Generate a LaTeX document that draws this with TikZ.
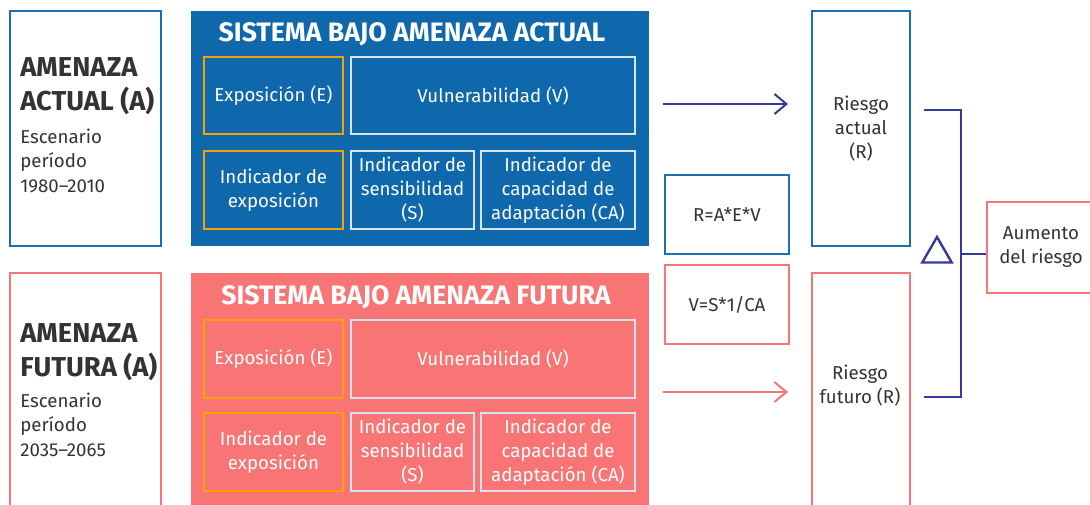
\documentclass[tikz,border=0pt]{standalone}
\usepackage{fontspec}
\setmainfont{Fira Sans}
\usetikzlibrary{arrows.meta,shapes.geometric}

\definecolor{azul}{HTML}{0F67AC}
\definecolor{azulborde}{HTML}{1A6FB5}
\definecolor{rosa}{HTML}{F97474}
\definecolor{naranja}{HTML}{F4A300}
\definecolor{gris}{HTML}{D8E3EC}
\definecolor{indigo}{HTML}{343A9A}
\definecolor{texto}{HTML}{333333}

\newcommand{\px}{0.75pt}

\tikzset{
    caja/.style={draw, line width=1.5pt, inner sep=0pt, anchor=north west, align=center},
    cuerpo/.style={font=\fontsize{14}{18}\selectfont},
    titulo/.style={font=\bfseries\fontsize{20}{22}\selectfont, text=white},
    amenaza/.style={font=\bfseries\fontsize{20.5}{25}\selectfont, text=texto, align=left, anchor=base west, inner sep=0pt},
    escenario/.style={font=\fontsize{14}{18.3}\selectfont, text=texto, align=left, anchor=base west, inner sep=0pt},
    flecha/.style={line width=1.5pt, -{Straight Barb[length=9pt,width=15pt,line width=1.5pt]}},
}

\begin{document}
\begin{tikzpicture}[x=0.75pt, y=-0.75pt, line cap=butt, line join=miter]

    \useasboundingbox (0,0) rectangle (1090,504);
    \clip (0,0) rectangle (1090,504);

    % amenaza actual
    \node[caja, draw=azulborde, minimum width=151*\px, minimum height=235*\px] (aactual) at (9,10) {};
    \node[amenaza] (aactualtit) at (20,110) {AMENAZA\\ACTUAL (A)};
    \node[escenario] (aactualesc) at (20,192) {Escenario\\período\\1980–2010};

    % sistema actual
    \node[caja, draw=none, fill=azul, minimum width=458*\px, minimum height=235*\px] (sactual) at (190,10) {};
    \node[titulo] (sactualtit) at (412,34) {SISTEMA BAJO AMENAZA ACTUAL};
    \node[caja, cuerpo, draw=naranja, text=white, minimum width=139*\px, minimum height=77*\px] (expA) at (203,56) {Exposición (E)};
    \node[caja, cuerpo, draw=gris, text=white, minimum width=284*\px, minimum height=77*\px] (vulA) at (350,56) {Vulnerabilidad (V)};
    \node[caja, cuerpo, draw=naranja, text=white, minimum width=139*\px, minimum height=78*\px] (iexpA) at (203,150) {Indicador de\\exposición};
    \node[caja, cuerpo, draw=gris, text=white, minimum width=123*\px, minimum height=78*\px] (isenA) at (350,150) {Indicador de\\sensibilidad\\(S)};
    \node[caja, cuerpo, draw=gris, text=white, minimum width=154*\px, minimum height=78*\px] (icapA) at (480,150) {Indicador de\\capacidad de\\adaptación (CA)};

    % amenaza futura
    \node[caja, draw=rosa, minimum width=151*\px, minimum height=250*\px] (afutura) at (9,272) {};
    \node[amenaza] (afuturatit) at (20,376) {AMENAZA\\FUTURA (A)};
    \node[escenario] (afuturaesc) at (20,456) {Escenario\\período\\2035–2065};

    % sistema futuro
    \node[caja, draw=none, fill=rosa, minimum width=458*\px, minimum height=250*\px] (sfutura) at (190,272) {};
    \node[titulo] (sfuturatit) at (416,297) {SISTEMA BAJO AMENAZA FUTURA};
    \node[caja, cuerpo, draw=naranja, text=white, minimum width=139*\px, minimum height=78*\px] (expF) at (203,319) {Exposición (E)};
    \node[caja, cuerpo, draw=gris, text=white, minimum width=284*\px, minimum height=78*\px] (vulF) at (350,319) {Vulnerabilidad (V)};
    \node[caja, cuerpo, draw=naranja, text=white, minimum width=139*\px, minimum height=78*\px] (iexpF) at (203,412) {Indicador de\\exposición};
    \node[caja, cuerpo, draw=gris, text=white, minimum width=123*\px, minimum height=78*\px] (isenF) at (350,412) {Indicador de\\sensibilidad\\(S)};
    \node[caja, cuerpo, draw=gris, text=white, minimum width=154*\px, minimum height=78*\px] (icapF) at (480,412) {Indicador de\\capacidad de\\adaptación (CA)};

    % formulas
    \node[caja, cuerpo, draw=azulborde, text=texto, minimum width=124*\px, minimum height=79*\px] (formR) at (664,174) {R=A*E*V};
    \node[caja, cuerpo, draw=rosa, text=texto, minimum width=124*\px, minimum height=79*\px] (formV) at (664,264) {V=S*1/CA};

    % riesgo
    \node[caja, cuerpo, draw=azulborde, text=texto, minimum width=98*\px, minimum height=235*\px] (ractual) at (811,10) {Riesgo\\actual\\(R)};
    \node[caja, draw=rosa, minimum width=98*\px, minimum height=250*\px] (rfuturo) at (811,272) {};
    \node[cuerpo, text=texto, align=center] (rfuturotxt) at (860,386) {Riesgo\\futuro (R)};

    \coordinate (fA) at (663,104);
    \coordinate (fF) at (663,392);
    \draw[flecha, indigo] (fA) -- ([xshift=-23*\px]ractual.west |- fA);
    \draw[flecha, rosa] (fF) -- ([xshift=-23*\px]rfuturo.west |- fF);

    % aumento
    \node[caja, cuerpo, draw=rosa, text=texto, minimum width=108*\px, minimum height=91*\px] (aumento) at (986,201) {Aumento\\del riesgo};
    \node[draw=indigo, line width=1.8pt, regular polygon, regular polygon sides=3, minimum size=34*\px, inner sep=0pt] (delta) at (937,254) {};

    \coordinate (b1) at (924,110);
    \coordinate (b2) at (924,397);
    \coordinate (bj) at (961,254);
    \draw[indigo, line width=1.5pt] (b1) -| (bj) |- (b2);
    \draw[indigo, line width=1.5pt] (bj) -- (aumento.west |- bj);

\end{tikzpicture}
\end{document}
